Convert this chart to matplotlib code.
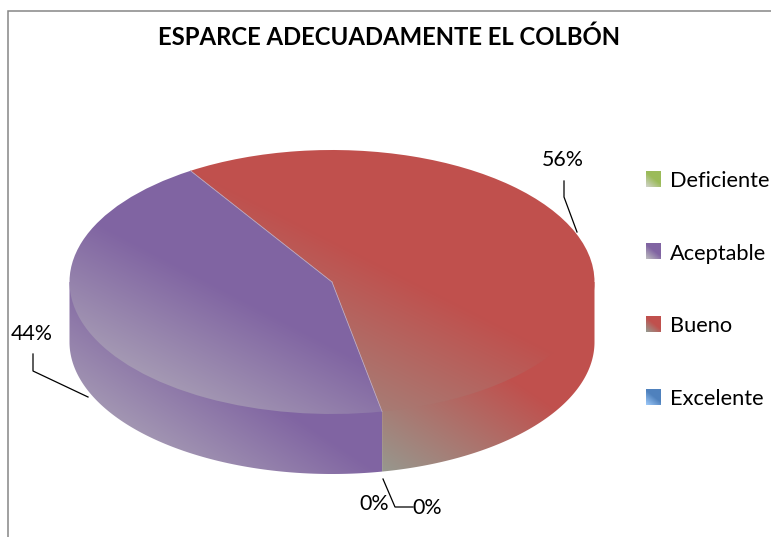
import numpy as np
import matplotlib
matplotlib.use("Agg")
import matplotlib.pyplot as plt
from matplotlib.patches import Polygon, Patch

W, H = 771, 537
categories = ["Deficiente", "Aceptable", "Bueno", "Excelente"]
values = [0, 44, 56, 0]
colors = ["#9BBB59", "#8064A2", "#C0504D", "#4F81BD"]
fade = ["#D0D2C8", "#BBBABE", "#96998F", "#9CC8F8"]
title = "ESPARCE ADECUADAMENTE EL COLBÓN"
FONT = "Lato"

# pie geometry in pixels
CX, CY, A, B, DEPTH = 332, 282, 262.5, 132, 60
START = 281
# gradient direction and reach per slice
side_grad = [((-0.55, 0.83), 172), ((-0.55, 0.83), 172), ((-0.55, 0.83), 150), ((-0.55, 0.83), 172)]
top_grad = [((-0.46, 0.88), 181), ((-0.46, 0.88), 181), ((-0.45, 0.89), 216), ((-0.46, 0.88), 181)]

fig = plt.figure(figsize=(W / 100, H / 100), dpi=100, facecolor="white")
ax = fig.add_axes([0, 0, 1, 1])
wedges, _ = ax.pie(values, startangle=START, counterclock=False, radius=1,
                   colors=colors, wedgeprops=dict(linewidth=0))
ax.set_aspect("auto")
ax.set_xlim((0 - CX) / A, (W - CX) / A)
ax.set_ylim((CY - H) / B, CY / B)
ax.axis("off")
extent = (ax.get_xlim()[0], ax.get_xlim()[1], ax.get_ylim()[0], ax.get_ylim()[1])

yy, xx = np.mgrid[0:H, 0:W] + 0.5


def rgb(c):
    return np.array(matplotlib.colors.to_rgb(c))


def gradient(base, end, corner, d, length):
    px = (xx - corner[0]) * d[0] + (yy - corner[1]) * d[1]
    t = np.clip(-px / length, 0, 1)[..., None]
    return rgb(end) * (1 - t) + rgb(base) * t


def paint(artist, img, z):
    artist.set_facecolor("none")
    artist.set_zorder(z)
    im = ax.imshow(img, extent=extent, origin="upper", aspect="auto",
                   interpolation="nearest", zorder=z)
    im.set_clip_path(artist)
    return im


# side faces (tucked slightly under the top face so no seam shows)
for w, base, end, (d, length) in zip(wedges, colors, fade, side_grad):
    if w.theta2 - w.theta1 <= 0:
        continue
    for lo, hi in ((180, 360), (-180, 0)):
        a, b = max(w.theta1, lo), min(w.theta2, hi)
        if b <= a:
            continue
        th = np.radians(np.linspace(a, b, 200))
        top = np.c_[np.cos(th), np.sin(th)]
        bot = (top - [0, DEPTH / B])[::-1]
        poly = Polygon(np.r_[top * 0.97, top[-1:], bot, top[:1]], closed=True, linewidth=0)
        ax.add_patch(poly)
        xmin = CX + A * np.cos(th).min()
        img = gradient(base, end, (xmin, CY + B + DEPTH), d, length)
        paint(poly, img, 1)

# top faces
for w, base, end, (d, length) in zip(wedges, colors, fade, top_grad):
    if w.theta2 - w.theta1 <= 0:
        continue
    th = np.radians(np.linspace(w.theta1, w.theta2, 300))
    xs = np.r_[CX, CX + A * np.cos(th)]
    ys = np.r_[CY, CY - B * np.sin(th)]
    img = gradient(base, end, (xs.min(), ys.max()), d, length)
    paint(w, img, 2)

# faint separators between slices
for angle in (wedges[1].theta1, wedges[1].theta2):
    r = np.radians(angle)
    ax.plot([0, np.cos(r)], [0, np.sin(r)], color="#B8A6BE", lw=0.6, zorder=3)

# overlay in pixel coordinates
ov = fig.add_axes([0, 0, 1, 1], zorder=5)
ov.set_xlim(0, W)
ov.set_ylim(H, 0)
ov.axis("off")
ov.patch.set_alpha(0)

ov.plot([8, 8, W], [H, 11, 11], color="#868686", lw=1.1, solid_joinstyle="miter")
ov.text(388.5, 37, title, ha="center", va="center", fontsize=17.2,
        fontweight="bold", family=FONT, color="black")

labels = [f"{v}%" for v in values]
label_pos = [(374, 504), (32, 334), (563, 160), (427, 508)]
leaders = [
    None,
    [(33, 354), (33, 371), (88, 397)],
    [(564, 181), (564, 197), (577, 232)],
    [(383, 479), (395, 507), (413, 507)],
]
for s, p, l in zip(labels, label_pos, leaders):
    ov.text(p[0], p[1], s, ha="center", va="center", fontsize=15.4, family=FONT,
            color="black")
    if l:
        ov.plot(*zip(*l), color="black", lw=0.9)

# legend
fs = 15.7
sw = 15 * 0.72
handles = [Patch(facecolor=c, linewidth=0) for c in colors]
leg = fig.legend(handles, categories, loc="upper left",
                 bbox_to_anchor=(646 / W, 1 - 171 / H),
                 frameon=False, borderpad=0, borderaxespad=0,
                 prop=dict(family=FONT, size=fs),
                 handlelength=sw / fs, handleheight=sw / fs,
                 handletextpad=9 * 0.72 / fs, labelspacing=2.41)
leg.set_zorder(4)
fig.canvas.draw()
for h, base, end in zip(leg.get_patches(), colors, fade):
    bb = h.get_window_extent()
    x0, x1, y0, y1 = bb.x0, bb.x1, H - bb.y1, H - bb.y0
    n = 16
    gy, gx = np.mgrid[0:n, 0:n] / (n - 1)
    t = np.clip((gx * 0.6 + (1 - gy) * 0.8) / 0.75, 0, 1)[..., None]
    ov.imshow(rgb(end) * (1 - t) + rgb(base) * t, extent=(x0, x1, y1, y0),
              origin="upper", aspect="auto", interpolation="bilinear", zorder=6)
ov.set_xlim(0, W)
ov.set_ylim(H, 0)

fig.savefig("out.png", dpi=100, facecolor="white")
